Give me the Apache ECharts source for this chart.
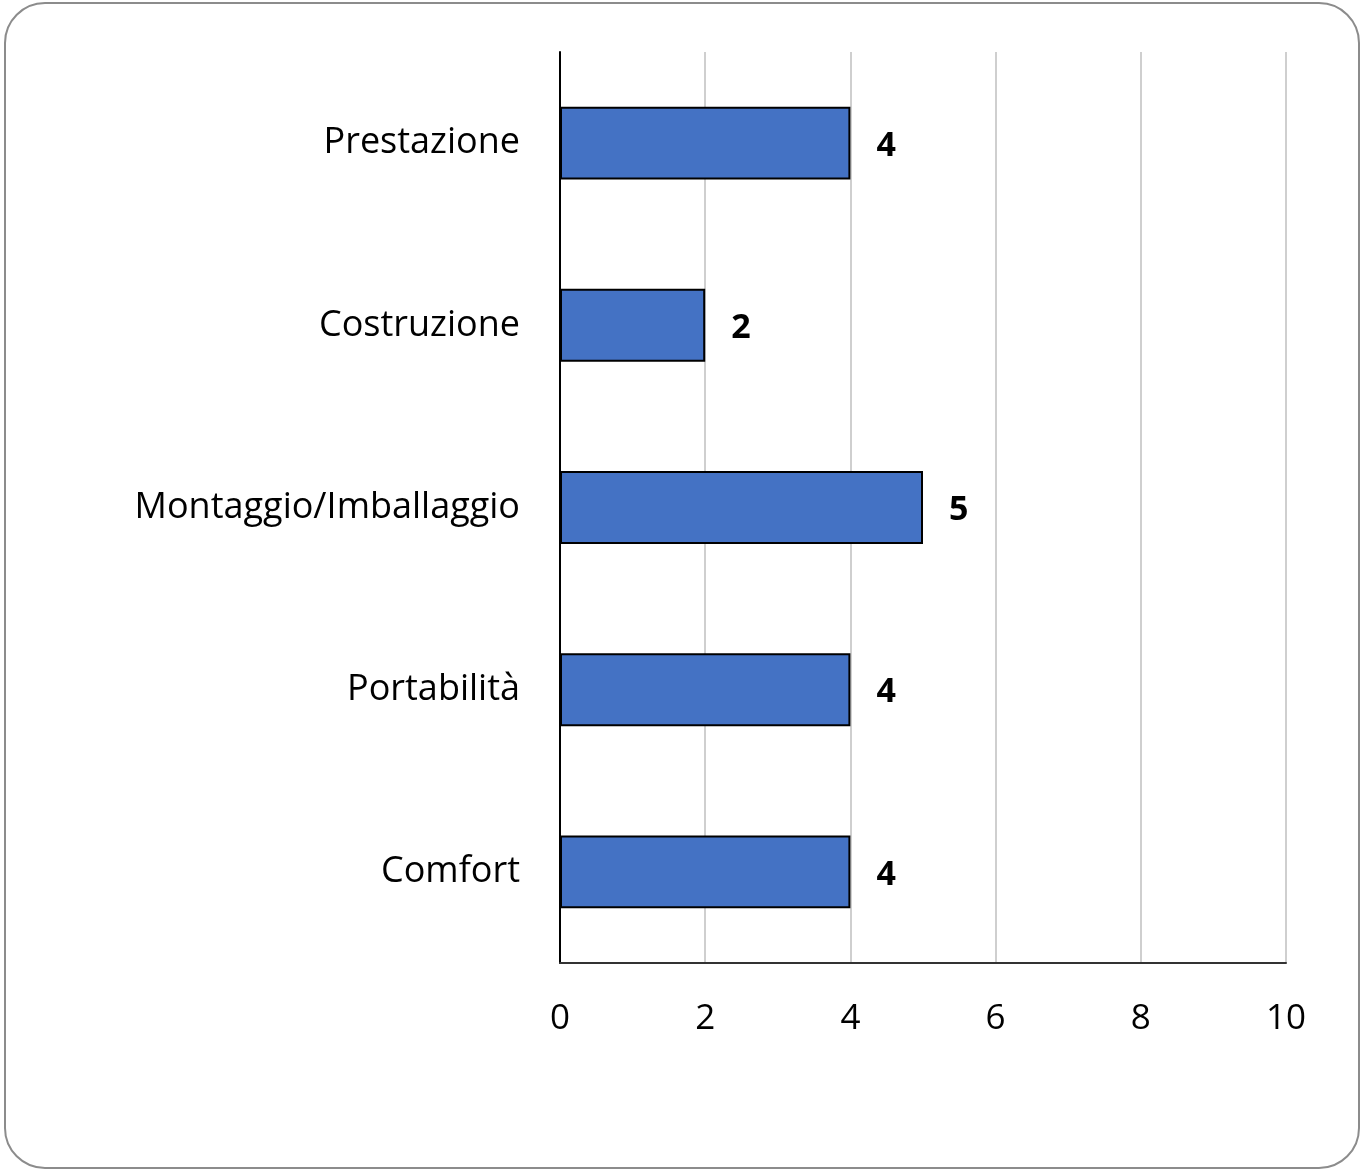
<!DOCTYPE html>
<html>
<head>
<meta charset="utf-8">
<script src="https://cdn.jsdelivr.net/npm/echarts@6/dist/echarts.min.js"></script>
<style>html,body{margin:0;padding:0;background:#fff;}#c{width:1365px;height:1173px;}</style>
</head>
<body>
<div id="c"></div>
<script>
const categories = ['Prestazione', 'Costruzione', 'Montaggio/Imballaggio', 'Portabilità', 'Comfort'];
const values = [4, 2, 5, 4, 4];
const xTicks = [0, 2, 4, 6, 8, 10];

const chart = echarts.init(document.getElementById('c'), null, {renderer: 'canvas'});
const FONT = 'Open Sans';
chart.setOption({
  animation: false,
  graphic: [{
    type: 'rect', left: 4, top: 2, z: -1,
    shape: {width: 1354, height: 1165, r: 40},
    style: {fill: '#fff', stroke: '#8c8c8c', lineWidth: 2}
  }],
  grid: {left: 560, right: 79, top: 52, bottom: 210, containLabel: false},
  xAxis: {
    type: 'value', min: xTicks[0], max: xTicks[xTicks.length - 1], interval: 2,
    axisLine: {show: true, lineStyle: {color: '#333', width: 2}},
    axisTick: {show: false},
    splitLine: {show: true, lineStyle: {color: '#bfbfbf', width: 1.5}},
    axisLabel: {fontFamily: FONT, fontSize: 35, color: '#000', margin: 39}
  },
  yAxis: {
    type: 'category', inverse: true, data: categories,
    axisLine: {show: true, onZero: false, lineStyle: {color: '#000', width: 2}},
    axisTick: {show: false},
    axisLabel: {fontFamily: FONT, fontSize: 36, color: '#000', margin: 40}
  },
  series: [{
    type: 'bar', data: values, barWidth: '40%',
    itemStyle: {color: '#4472c4', borderColor: '#000', borderWidth: 2},
    label: {show: true, position: 'right', distance: 26, offset: [0, 3], fontFamily: FONT, fontWeight: 'bold', fontSize: 34, color: '#000'}
  }]
});
</script>
</body>
</html>
